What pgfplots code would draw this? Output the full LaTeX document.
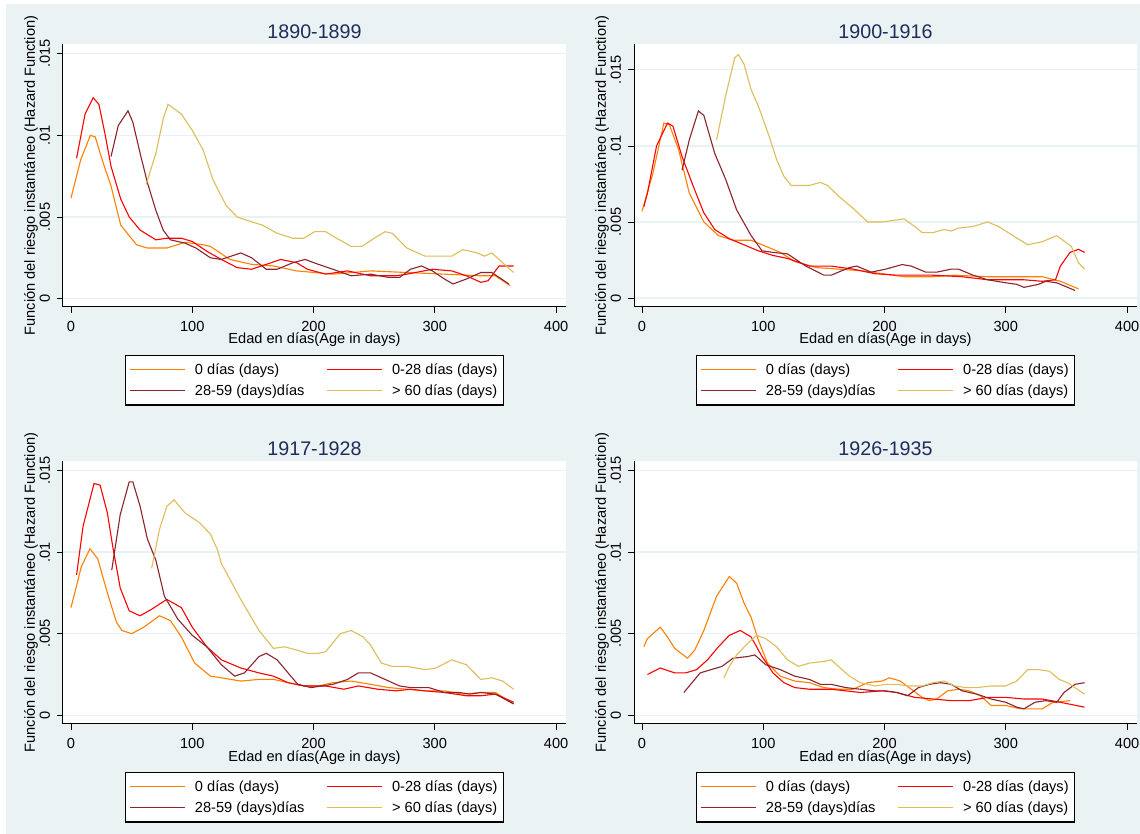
\documentclass[border=0pt]{standalone}
\usepackage{fontspec}
\setmainfont{Liberation Sans}
\usepackage{pgfplots}
\pgfplotsset{compat=1.18}

\definecolor{bgc}{RGB}{234,242,243}
\definecolor{gridc}{RGB}{232,241,243}
\definecolor{titc}{RGB}{30,45,90}
\definecolor{c0}{RGB}{255,128,0}
\definecolor{c28}{RGB}{255,0,0}
\definecolor{c59}{RGB}{140,35,45}
\definecolor{c60}{RGB}{222,190,90}

\newcommand{\lf}{\fontsize{14.6pt}{17pt}\selectfont}

\pgfplotsset{
  panel/.style={
    scale only axis, width=503pt, height=263pt, anchor=south west,
    xmin=-6.6, xmax=408.2, ymin=-0.00051, ymax=0.01559,
    axis background/.style={fill=white},
    axis x line*=bottom, axis y line*=left,
    axis line style={black, line width=1pt, -},
    xtick={0,100,200,300,400},
    ytick={0,0.005,0.01,0.015},
    yticklabels={0,.005,.01,.015},
    scaled y ticks=false,
    tick align=outside, major tick length=6pt,
    tick style={black, line width=0.8pt},
    ymajorgrids, grid style={gridc, line width=1.3pt},
    /pgf/number format/assume math mode=true,
    ticklabel style={font=\lf},
    yticklabel style={rotate=90, anchor=south, inner sep=0pt},
    xticklabel style={anchor=base, inner sep=0pt},
    yticklabel shift=6.8pt,
    xticklabel shift=18.7pt,
    xlabel={Edad en días(Age in days)},
    ylabel={Función del riesgo instantáneo (Hazard Function)},
    label style={font=\lf},
    xlabel style={at={(axis description cs:0.5,-0.1407)}, anchor=base},
    ylabel style={at={(axis description cs:-0.0636,0.5)}, anchor=center},
    title style={at={(axis description cs:0.5,0.9989)}, anchor=base,
      font=\fontsize{19.7pt}{23pt}\selectfont, text=titc},
    legend columns=2,
    legend cell align=left,
    legend style={at={(0.5,-0.1825)}, anchor=north, draw=black,
      line width=1.2pt, fill=white, font=\lf,
      inner xsep=4pt, inner ysep=6pt, row sep=5pt,
      /tikz/every odd column/.append style={column sep=7pt},
      /tikz/every even column/.append style={column sep=20pt}},
    legend image code/.code={\draw[#1, line width=1.6pt] (0pt,0.3pt) -- (55pt,0.3pt);},
    every axis plot/.append style={line width=1.1pt},
  }
}

\begin{document}
\begin{tikzpicture}
\fill[white] (0pt,0pt) rectangle (1140pt,834pt);
\fill[bgc] (6pt,0pt) rectangle (1140pt,830pt);

% ---------- 1890-1899
\begin{axis}[panel, at={(63pt,527pt)}, title={1890-1899}]
\addplot[c0] coordinates {(0,0.00616) (8,0.0085) (16,0.0100) (20,0.0099) (22,0.0094) (27,0.0082) (33,0.0069) (41,0.0045) (54,0.0033) (63,0.0031) (79,0.0031) (94,0.00345) (109,0.0033) (115,0.0032) (121,0.0029) (131,0.0024) (149,0.0021) (167,0.0020) (186,0.0017) (201,0.0016) (216,0.0015) (247,0.0017) (277,0.0016) (308,0.0015) (338,0.0014) (350,0.0014) (362,0.0008)};
\addplot[c28] coordinates {(4.6,0.0086) (11.6,0.0113) (18.3,0.0123) (23,0.0119) (28,0.0101) (33,0.0081) (41,0.0061) (48,0.0050) (57,0.0042) (70,0.0036) (79,0.0037) (91,0.0037) (100,0.0035) (112,0.0029) (124,0.0024) (137,0.0019) (149,0.0018) (161,0.0021) (173,0.0024) (186,0.0022) (195,0.0018) (210,0.0015) (228,0.0017) (247,0.0014) (268,0.0014) (277,0.0015) (298,0.0018) (314,0.0017) (326,0.0014) (338,0.0010) (344,0.0011) (353,0.0020) (365,0.0020)};
\addplot[c59] coordinates {(33,0.0087) (39,0.0106) (47,0.0115) (51,0.0108) (57,0.0089) (63,0.0071) (70,0.0054) (76,0.0042) (82,0.0036) (94,0.0034) (103,0.0031) (115,0.0025) (124,0.0024) (140,0.0028) (149,0.0025) (161,0.0018) (170,0.0018) (183,0.0022) (193,0.0024) (204,0.0021) (216,0.0018) (231,0.0014) (247,0.0015) (262,0.0013) (271,0.0013) (280,0.0018) (289,0.0020) (298,0.0017) (308,0.0012) (315,0.0009) (326,0.0012) (338,0.0016) (347,0.0016) (361,0.0009)};
\addplot[c60] coordinates {(62,0.0070) (70,0.0089) (76,0.0110) (80,0.0119) (91,0.0113) (100,0.0103) (109,0.0091) (117,0.0073) (121,0.0067) (128,0.0057) (137,0.0050) (149,0.0047) (158,0.0045) (170,0.0040) (183,0.0037) (192,0.0037) (201,0.0041) (210,0.0041) (219,0.0037) (231,0.0032) (240,0.0032) (250,0.0037) (259,0.0041) (265,0.0040) (277,0.0031) (292,0.0026) (308,0.0026) (314,0.0026) (323,0.0030) (335,0.0028) (341,0.0026) (347,0.0028) (356,0.0022) (365,0.0016)};
\legend{0 días (days), 0-28 días (days), 28-59 (days)días, > 60 días (days)}
\end{axis}

% ---------- 1900-1916
\begin{axis}[panel, at={(634pt,527pt)}, title={1900-1916}, ymin=-0.00059, ymax=0.0167]
\addplot[c0] coordinates {(0,0.0057) (9,0.0082) (18,0.0115) (22.5,0.0114) (30,0.0098) (39,0.0069) (51,0.0050) (63,0.0041) (75,0.0038) (90,0.0038) (102,0.0034) (114,0.0030) (126,0.0024) (144,0.0020) (162,0.0019) (180,0.0018) (198,0.0016) (216,0.0014) (240,0.0014) (258,0.0015) (285,0.0014) (315,0.0014) (330,0.0014) (345,0.0011) (360,0.0006)};
\addplot[c28] coordinates {(1.5,0.0060) (4.5,0.0069) (12,0.0100) (21,0.0115) (25.5,0.0113) (33,0.0093) (42,0.0074) (51,0.0056) (60,0.0045) (72,0.0039) (84,0.0035) (96,0.0031) (108,0.0028) (120,0.0026) (138,0.0021) (156,0.0021) (174,0.0019) (192,0.0016) (210,0.0015) (240,0.0015) (264,0.0014) (285,0.0012) (315,0.0012) (330,0.0011) (341,0.0012) (345,0.0021) (353,0.0030) (360,0.0032) (365,0.0030)};
\addplot[c59] coordinates {(33,0.0084) (39,0.0104) (46.5,0.0123) (51,0.0120) (60,0.0095) (69,0.0078) (78,0.0058) (90,0.0041) (99,0.0031) (108,0.0030) (120,0.0029) (135,0.0021) (150,0.0015) (156,0.0015) (171,0.0020) (177,0.0021) (189,0.0017) (201,0.0019) (214.5,0.0022) (222,0.0021) (234,0.0017) (243,0.0017) (255,0.0019) (261,0.0019) (273,0.0015) (285,0.0012) (300,0.0010) (309,0.0009) (315,0.0007) (327,0.0009) (333,0.0011) (342,0.0010) (357,0.0005)};
\addplot[c60] coordinates {(61.5,0.0104) (69,0.0133) (76.5,0.0158) (79.5,0.0160) (84,0.0154) (90,0.0137) (96,0.0126) (105,0.0106) (111,0.0091) (117,0.0080) (123,0.0074) (138,0.0074) (147,0.0076) (153,0.0074) (162,0.0067) (174,0.0059) (186,0.0050) (198,0.0050) (207,0.0051) (216,0.0052) (225,0.0047) (231,0.0043) (240,0.0043) (249,0.0045) (255,0.0044) (261,0.0046) (273,0.0047) (285,0.0050) (294,0.0047) (306,0.0041) (318,0.0035) (330,0.0037) (342,0.0041) (354,0.0034) (360,0.0023) (365,0.0019)};
\legend{0 días (days), 0-28 días (days), 28-59 (days)días, > 60 días (days)}
\end{axis}

% ---------- 1917-1928
\begin{axis}[panel, at={(63pt,110pt)}, title={1917-1928}, ymin=-0.00053, ymax=0.01558]
\addplot[c0] coordinates {(0,0.0066) (8.5,0.0091) (15.6,0.0102) (22,0.0096) (30,0.0075) (37.5,0.0057) (42,0.0052) (50,0.0050) (60,0.0054) (73,0.0061) (82,0.0058) (91,0.0048) (102,0.0032) (115,0.0024) (124,0.0023) (140,0.0021) (155,0.0022) (167,0.0022) (179,0.0020) (192,0.0018) (204,0.0018) (216,0.0020) (231,0.0021) (247,0.0019) (262,0.0017) (277,0.0016) (292,0.0015) (308,0.0015) (323,0.0013) (338,0.0014) (350,0.0014) (365,0.0007)};
\addplot[c28] coordinates {(4.6,0.0086) (10,0.0116) (19,0.0142) (24,0.0141) (30,0.0124) (34.5,0.0103) (40.6,0.0078) (48,0.0064) (57,0.0061) (66.5,0.0065) (79,0.0071) (91,0.0066) (100,0.0054) (112,0.0042) (124,0.0034) (140,0.0029) (155,0.0026) (167,0.0024) (179,0.0020) (192,0.0018) (210,0.0018) (225,0.0016) (237,0.0018) (253,0.0016) (268,0.0015) (280,0.0016) (292,0.0015) (308,0.0014) (326,0.0012) (338,0.0012) (350,0.0013) (365,0.0008)};
\addplot[c59] coordinates {(33.6,0.0089) (40.6,0.0123) (48,0.0143) (51,0.0143) (57,0.0128) (63,0.0108) (70,0.0095) (77,0.0073) (88,0.0059) (100,0.0049) (112,0.0042) (124,0.0031) (135,0.0024) (143,0.0026) (155,0.0036) (161,0.0038) (170,0.0034) (179,0.0026) (187,0.0019) (198,0.0017) (207,0.0018) (216,0.0019) (228,0.0022) (237,0.0026) (247,0.0026) (259,0.0022) (271,0.0018) (280,0.0017) (295,0.0017) (308,0.0014) (320,0.0014) (329,0.0013) (338,0.0014) (350,0.0013) (365,0.0007)};
\addplot[c60] coordinates {(66.5,0.0090) (73,0.0114) (79,0.0128) (85,0.0132) (94,0.0124) (106,0.0118) (115,0.0111) (121,0.0101) (124,0.0093) (140,0.0071) (155,0.0052) (167,0.0041) (176,0.0042) (186,0.0040) (195,0.0038) (204,0.0038) (210,0.0039) (222,0.0050) (231,0.0052) (241,0.0048) (247,0.0043) (256,0.0032) (265,0.0030) (277,0.0030) (292,0.0028) (301,0.0029) (314,0.0034) (326,0.0031) (338,0.0022) (347,0.0023) (356,0.0021) (365,0.0016)};
\legend{0 días (days), 0-28 días (days), 28-59 (days)días, > 60 días (days)}
\end{axis}

% ---------- 1926-1935
\begin{axis}[panel, at={(634pt,110pt)}, title={1926-1935}, ymin=-0.00053, ymax=0.01558]
\addplot[c0] coordinates {(1.5,0.0042) (4.5,0.0047) (15,0.0054) (21,0.0048) (27,0.0041) (37.5,0.0035) (43.5,0.0040) (51,0.0052) (61.5,0.0073) (72,0.0085) (78,0.0081) (84,0.0069) (90,0.0060) (96,0.0046) (103.5,0.0032) (114,0.0024) (126,0.0021) (138,0.0020) (150,0.0017) (162,0.0016) (174,0.0016) (186,0.0020) (198,0.0021) (204,0.0023) (213,0.0021) (222,0.0016) (231,0.0011) (237,0.0009) (243,0.0010) (252,0.0015) (261,0.0016) (270,0.0015) (279,0.0012) (288,0.0006) (300,0.0006) (312,0.0004) (324,0.0004) (330,0.0004) (339,0.0008) (353,0.0009)};
\addplot[c28] coordinates {(4.5,0.0025) (15,0.0029) (27,0.0026) (36,0.0026) (45,0.0028) (54,0.0034) (63,0.0042) (72,0.0049) (81,0.0052) (90,0.0048) (99,0.0036) (108,0.0026) (117,0.0020) (126,0.0017) (138,0.0016) (156,0.0016) (168,0.0015) (180,0.0014) (198,0.0015) (210,0.0014) (225,0.0011) (240,0.0010) (255,0.0009) (261,0.0009) (270,0.0009) (285,0.0011) (300,0.0011) (315,0.0010) (330,0.0010) (345,0.0008) (365,0.0005)};
\addplot[c59] coordinates {(34.5,0.0014) (39,0.0018) (48,0.0026) (57,0.0028) (66,0.0030) (75,0.0035) (87,0.0036) (93,0.0037) (102,0.0031) (114,0.0028) (126,0.0024) (138,0.0022) (147,0.0019) (156,0.0019) (168,0.0017) (180,0.0016) (192,0.0015) (201,0.0015) (210,0.0014) (219,0.0012) (228,0.0017) (237,0.0019) (246,0.0020) (255,0.0019) (264,0.0015) (276,0.0013) (288,0.0010) (300,0.0008) (309,0.0005) (315,0.0004) (324,0.0008) (333,0.0009) (342,0.0008) (348,0.0014) (357,0.0019) (365,0.0020)};
\addplot[c60] coordinates {(67.5,0.0023) (72,0.0030) (78,0.0037) (87,0.0044) (94.5,0.0049) (102,0.0047) (111,0.0042) (120,0.0034) (129,0.0030) (138,0.0032) (150,0.0033) (156,0.0034) (162,0.0030) (171,0.0024) (180,0.0020) (192,0.0018) (201,0.0019) (210,0.0019) (219,0.0018) (231,0.0018) (240,0.0020) (249,0.0021) (258,0.0018) (267,0.0017) (276,0.0017) (288,0.0018) (300,0.0018) (309,0.0021) (318,0.0028) (327,0.0028) (336,0.0027) (344,0.0022) (351,0.0020) (365,0.0013)};
\legend{0 días (days), 0-28 días (days), 28-59 (days)días, > 60 días (days)}
\end{axis}
\end{tikzpicture}
\end{document}
